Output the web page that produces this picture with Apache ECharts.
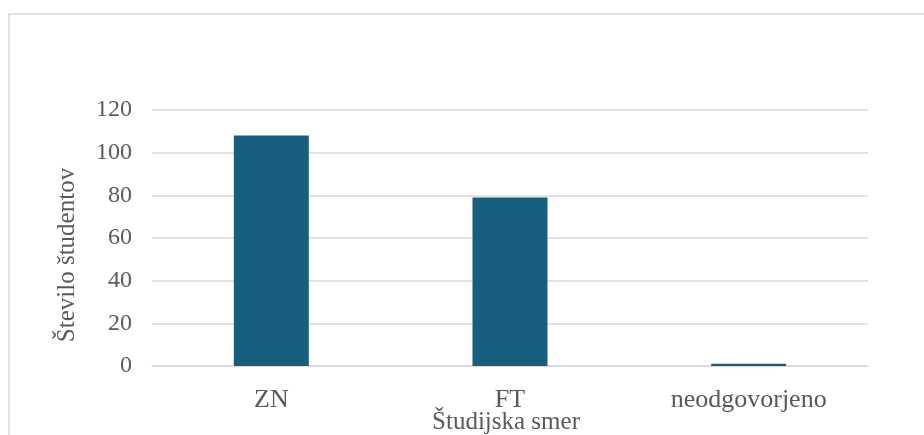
<!DOCTYPE html>
<html>
<head>
<meta charset="utf-8">
<script src="https://cdn.jsdelivr.net/npm/echarts@6/dist/echarts.min.js"></script>
<style>
  html, body { margin: 0; padding: 0; background: #fff; }
  #chart { width: 924px; height: 435px; }
</style>
</head>
<body>
<div id="chart"></div>
<script>
// Students by study programme
const categories = ['ZN', 'FT', 'neodgovorjeno'];
const students = [108, 79, 1];
const yTicks = { min: 0, max: 120, interval: 20 };
const yTitle = 'Število študentov';
const xTitle = 'Študijska smer';

const serif = '"Liberation Serif", "Times New Roman", serif';
const textColor = '#595959';

const chart = echarts.init(document.getElementById('chart'), null, { renderer: 'canvas' });
chart.setOption({
  backgroundColor: '#ffffff',
  animation: false,
  graphic: [{
    type: 'rect',
    shape: { x: 9, y: 14, width: 930, height: 440 },
    style: { fill: 'none', stroke: '#d9d9d9', lineWidth: 1.5 },
    silent: true
  }],
  grid: { left: 152, right: 56, top: 110, bottom: 69, outerBoundsMode: 'none' },
  xAxis: {
    type: 'category',
    data: categories,
    axisTick: { show: false },
    axisLine: { show: true, lineStyle: { color: '#d9d9d9', width: 1.5 } },
    axisLabel: { color: textColor, fontFamily: serif, fontSize: 26, margin: 21 },
    name: xTitle,
    nameLocation: 'middle',
    nameGap: 44,
    nameMoveOverlap: false,
    nameTextStyle: { color: textColor, fontFamily: serif, fontSize: 25, padding: [0, 8, 0, 0] }
  },
  yAxis: {
    type: 'value',
    min: yTicks.min,
    max: yTicks.max,
    interval: yTicks.interval,
    axisLine: { show: false },
    axisTick: { show: false },
    splitLine: { lineStyle: { color: '#d9d9d9', width: 1.5 } },
    axisLabel: { color: textColor, fontFamily: serif, fontSize: 24, margin: 20 },
    name: yTitle,
    nameLocation: 'middle',
    nameGap: 72,
    nameMoveOverlap: false,
    nameRotate: 90,
    nameTextStyle: { color: textColor, fontFamily: serif, fontSize: 25, padding: [0, 0, 0, -34] }
  },
  series: [{
    type: 'bar',
    data: students,
    barWidth: 75,
    itemStyle: { color: '#175f7e' }
  }]
});
</script>
</body>
</html>
